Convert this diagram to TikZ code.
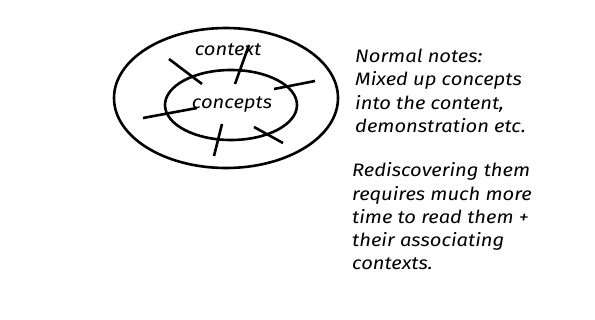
\documentclass[tikz,border=0pt]{standalone}
\usepackage{fontspec}
\setmainfont{Fira Sans}[FakeStretch=1.12]
\usetikzlibrary{positioning}

\tikzset{
  ring/.style={line width=2.6pt},
  tick/.style={line width=2.6pt},
  label/.style={font=\fontsize{18}{20}\selectfont\itshape, inner sep=0pt},
  notes/.style={font=\fontsize{18}{23.2}\selectfont\itshape, align=left, inner sep=0pt},
}

\begin{document}
\begin{tikzpicture}[x=1pt,y=-1pt]
  \useasboundingbox (0,0) rectangle (595,319);

  % Draw the two rings
  \draw[ring] (226,98) ellipse [x radius=112, y radius=70];
  \draw[ring] (231,105) ellipse [x radius=66, y radius=35];

  % Ring labels
  \node[label] (context) at (228,50) {context};
  \node[label] (concepts) at (232,105) {concepts};

  % Strokes crossing the inner ring
  \foreach \x/\y/\u/\v in {169/59/202/84, 235/84/249/45, 274/89/315/81,
                           143/118/197/108, 254/127/283/143, 222/124/214/156} {
    \draw[tick] (\x,\y) -- (\u,\v);
  }

  % Notes on the right
  \node[notes, anchor=north west] (normal) at (355,49)
    {Normal notes:\\Mixed up concepts\\into the content,\\demonstration etc.};
  \node[notes, below=30pt of normal.south west, anchor=north west, xshift=-3pt] (rediscover)
    {Rediscovering them\\requires much more\\time to read them +\\their associating\\contexts.};
\end{tikzpicture}
\end{document}
